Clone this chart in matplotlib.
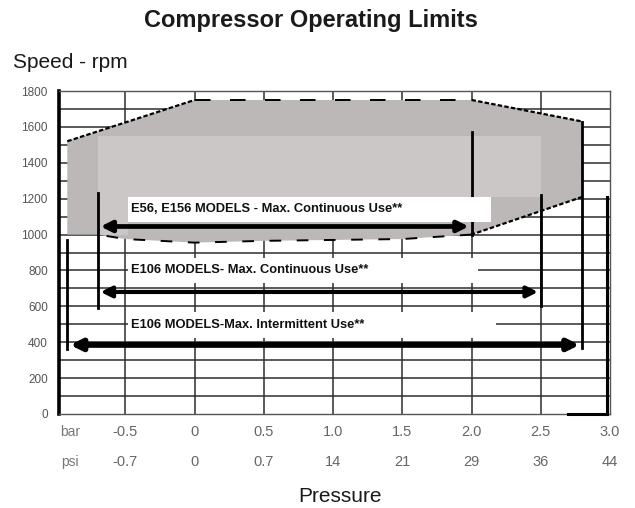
import numpy as np
import matplotlib.pyplot as plt

plt.rcParams['font.family'] = ['Liberation Sans', 'DejaVu Sans']

# Envelope of the operating area (bar, rpm)
env_bar = [-0.92, -0.92, 0.0, 2.0, 2.8, 2.8, 2.0, 1.5, 1.0, 0.5, 0.0, -0.5, -0.7]
env_rpm = [1000, 1520, 1750, 1750, 1630, 1210, 1000, 975, 970, 965, 955, 975, 1000]

# Lighter inner block
inner_bar = [-0.7, -0.7, 2.5, 2.5, -0.48, -0.48]
inner_rpm = [1000, 1550, 1550, 1210, 1210, 1000]

# Limits: label text, arrow rpm, bar range, white box extent
labels = ["E56, E156 MODELS - Max. Continuous Use**",
          "E106 MODELS- Max. Continuous Use**",
          "E106 MODELS-Max. Intermittent Use**"]
arrow_rpm = [1045, 680, 385]
arrow_lo = [-0.7, -0.7, -0.92]
arrow_hi = [2.0, 2.5, 2.8]
arrow_lw = [3.4, 3.0, 4.2]
box_lo = [1070, 730, 424]
box_hi = [1210, 870, 569]
box_end = [2.14, 2.05, 2.18]

# Vertical limit lines (bar, rpm from, rpm to)
vlines_bar = [-0.7, 2.0, 2.5, -0.92, 2.8]
vlines_from = [590, 1000, 600, 360, 370]
vlines_to = [1230, 1570, 1220, 970, 1630]

bar_ticks = [-0.5, 0, 0.5, 1.0, 1.5, 2.0, 2.5, 3.0]
bar_labels = ["-0.5", "0", "0.5", "1.0", "1.5", "2.0", "2.5", "3.0"]
psi_labels = ["-0.7", "0", "0.7", "14", "21", "29", "36", "44"]
rpm_ticks = list(range(0, 1801, 200))

fig = plt.figure(figsize=(6.35, 5.08), dpi=100)
ax = fig.add_axes([59 / 635, 1 - 414 / 508, 551 / 635, 323 / 508])
ax.set_xlim(-0.98, 3.0)
ax.set_ylim(0, 1800)

# grid
for r in range(100, 1800, 100):
    ax.axhline(r, color='#2e2e2e', lw=1.1, zorder=1)
for b in np.arange(-0.5, 3.0, 0.5):
    ax.axvline(b, color='#2e2e2e', lw=1.1, zorder=1)

ax.fill(env_bar, env_rpm, color='#bcb8b8', zorder=2, lw=0)
ax.fill(inner_bar, inner_rpm, color='#ccc7c7', zorder=2.1, lw=0)

# dashed envelope edges
ax.plot(env_bar[1:3], env_rpm[1:3], color='black', lw=1.6, ls=(0, (2, 1)), zorder=3)
ax.plot(env_bar[2:4], env_rpm[2:4], color='black', lw=1.4, ls=(0, (8, 10)), zorder=3)
ax.plot(env_bar[3:5], env_rpm[3:5], color='black', lw=1.6, ls=(0, (2, 1)), zorder=3)
ax.plot(env_bar[5:7], env_rpm[5:7], color='black', lw=1.6, ls=(0, (2, 1)), zorder=3)
ax.plot(env_bar[6:], env_rpm[6:], color='black', lw=1.4, ls=(0, (6, 8)), zorder=3)

for b, r0, r1 in zip(vlines_bar, vlines_from, vlines_to):
    ax.plot([b, b], [r0, r1], color='black', lw=2.0, zorder=4)

# text boxes
for lab, lo, hi, end in zip(labels, box_lo, box_hi, box_end):
    ax.fill([-0.48, end, end, -0.48], [lo, lo, hi, hi], color='white', zorder=5, lw=0)
    ax.text(-0.46, (lo + hi) / 2, lab, fontsize=9.3, fontweight='bold',
            va='center', ha='left', color='#111111', zorder=6)

for r, lo, hi, lw in zip(arrow_rpm, arrow_lo, arrow_hi, arrow_lw):
    ax.annotate('', xy=(hi - 0.02, r), xytext=(lo + 0.02, r),
                arrowprops=dict(arrowstyle='<|-|>', color='black', lw=lw,
                                mutation_scale=16, shrinkA=0, shrinkB=0),
                zorder=6)

# right border, thick lower part
ax.plot([2.98, 2.98], [0, 1210], color='black', lw=2.2, zorder=4, clip_on=False)
ax.plot([2.7, 2.98], [0, 0], color='black', lw=2.2, zorder=4, clip_on=False)

for s in ['top', 'right', 'bottom']:
    ax.spines[s].set_linewidth(1.0)
    ax.spines[s].set_color('#555555')
ax.spines['left'].set_linewidth(2.6)

ax.set_yticks(rpm_ticks)
ax.set_yticklabels([str(t) for t in rpm_ticks])
ax.tick_params(axis='y', length=0, labelsize=8.5, labelcolor='#555555', pad=8)
ax.set_xticks([])

tr = ax.get_xaxis_transform()
for b, bl, pl in zip(bar_ticks, bar_labels, psi_labels):
    ax.text(b, -0.056, bl, transform=tr, ha='center', va='center',
            fontsize=10.5, color='#666666', clip_on=False)
    ax.text(b, -0.149, pl, transform=tr, ha='center', va='center',
            fontsize=10.5, color='#666666', clip_on=False)
ax.text(-0.9, -0.056, "bar", transform=tr, ha='center', va='center',
        fontsize=10, color='#777777')
ax.text(-0.9, -0.149, "psi", transform=tr, ha='center', va='center',
        fontsize=10, color='#777777')

fig.text(0.49, 1 - 20 / 508, "Compressor Operating Limits", ha='center', va='center',
         fontsize=17, fontweight='bold', color='#1a1a1a')
fig.text(13 / 635, 1 - 63 / 508, "Speed - rpm", ha='left', va='center',
         fontsize=15, color='#1a1a1a')
fig.text(340 / 635, 1 - 497 / 508, "Pressure", ha='center', va='center',
         fontsize=15, color='#1a1a1a')

fig.savefig('out.png', dpi=100, facecolor='white')
